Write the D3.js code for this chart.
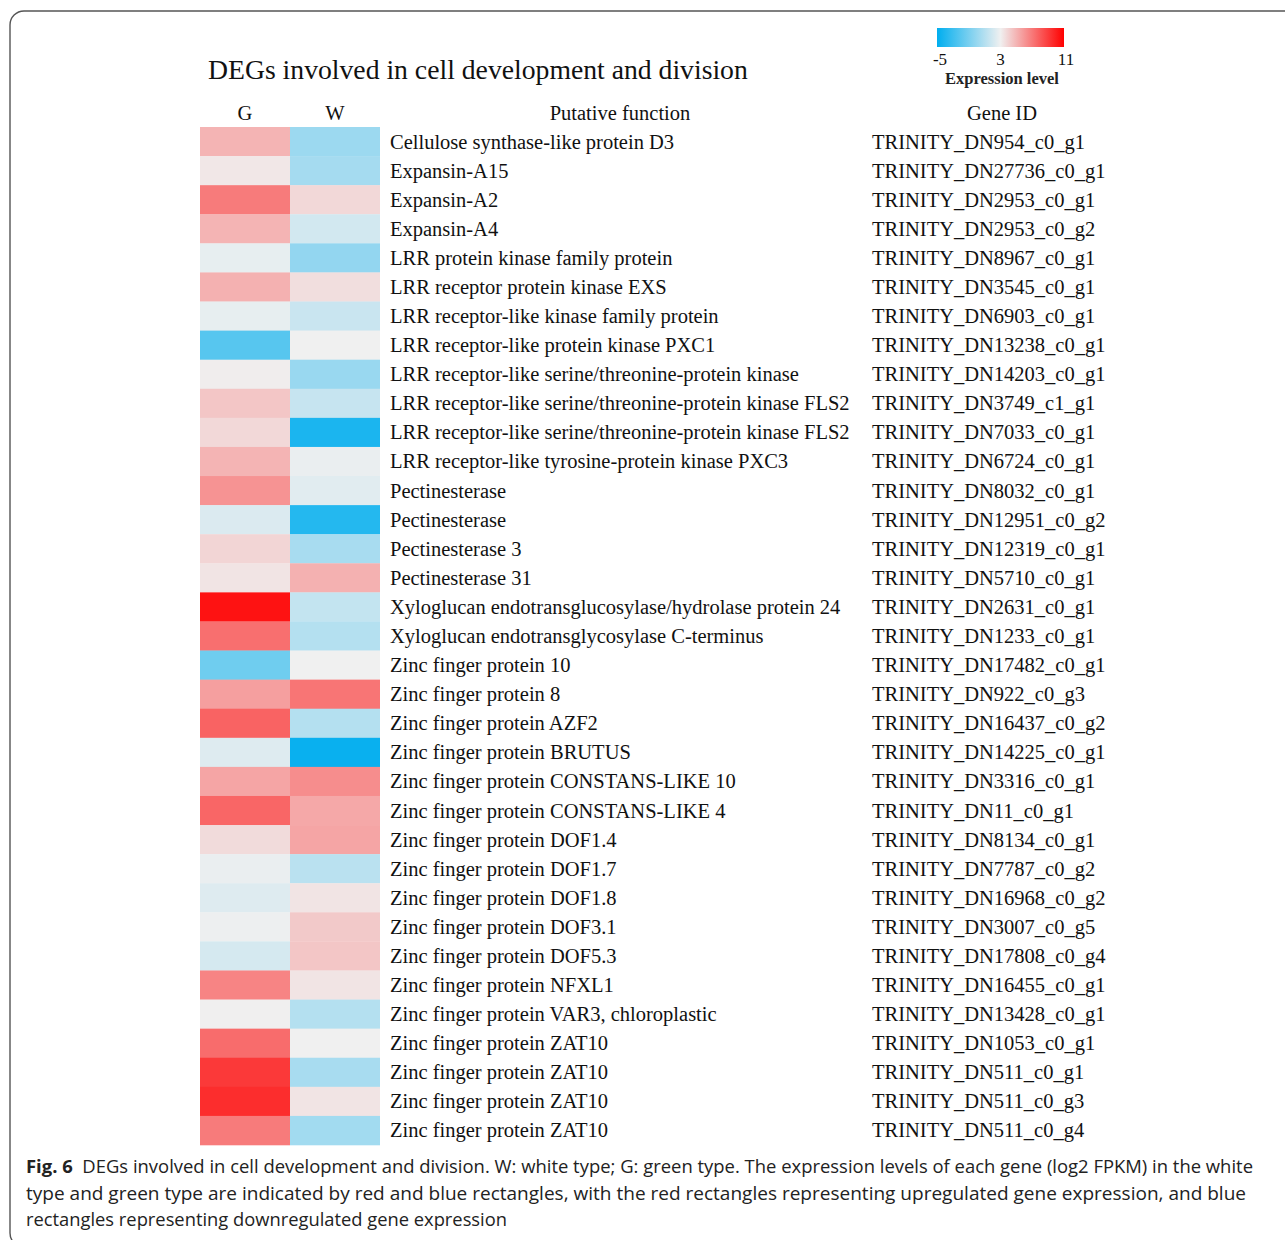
<!DOCTYPE html>
<html>
<head>
<meta charset="utf-8">
<script src="https://cdn.jsdelivr.net/npm/d3@7"></script>
<style>
  body { margin: 0; background: #fff; }
  svg { display: block; }
</style>
</head>
<body>
<div id="chart"></div>
<script>
// data
var functions = [
  "Cellulose synthase-like protein D3",
  "Expansin-A15",
  "Expansin-A2",
  "Expansin-A4",
  "LRR protein kinase family protein",
  "LRR receptor protein kinase EXS",
  "LRR receptor-like kinase family protein",
  "LRR receptor-like protein kinase PXC1",
  "LRR receptor-like serine/threonine-protein kinase",
  "LRR receptor-like serine/threonine-protein kinase FLS2",
  "LRR receptor-like serine/threonine-protein kinase FLS2",
  "LRR receptor-like tyrosine-protein kinase PXC3",
  "Pectinesterase",
  "Pectinesterase",
  "Pectinesterase 3",
  "Pectinesterase 31",
  "Xyloglucan endotransglucosylase/hydrolase protein 24",
  "Xyloglucan endotransglycosylase C-terminus",
  "Zinc finger protein 10",
  "Zinc finger protein 8",
  "Zinc finger protein AZF2",
  "Zinc finger protein BRUTUS",
  "Zinc finger protein CONSTANS-LIKE 10",
  "Zinc finger protein CONSTANS-LIKE 4",
  "Zinc finger protein DOF1.4",
  "Zinc finger protein DOF1.7",
  "Zinc finger protein DOF1.8",
  "Zinc finger protein DOF3.1",
  "Zinc finger protein DOF5.3",
  "Zinc finger protein NFXL1",
  "Zinc finger protein VAR3, chloroplastic",
  "Zinc finger protein ZAT10",
  "Zinc finger protein ZAT10",
  "Zinc finger protein ZAT10",
  "Zinc finger protein ZAT10"
];

var geneIds = [
  "TRINITY_DN954_c0_g1",
  "TRINITY_DN27736_c0_g1",
  "TRINITY_DN2953_c0_g1",
  "TRINITY_DN2953_c0_g2",
  "TRINITY_DN8967_c0_g1",
  "TRINITY_DN3545_c0_g1",
  "TRINITY_DN6903_c0_g1",
  "TRINITY_DN13238_c0_g1",
  "TRINITY_DN14203_c0_g1",
  "TRINITY_DN3749_c1_g1",
  "TRINITY_DN7033_c0_g1",
  "TRINITY_DN6724_c0_g1",
  "TRINITY_DN8032_c0_g1",
  "TRINITY_DN12951_c0_g2",
  "TRINITY_DN12319_c0_g1",
  "TRINITY_DN5710_c0_g1",
  "TRINITY_DN2631_c0_g1",
  "TRINITY_DN1233_c0_g1",
  "TRINITY_DN17482_c0_g1",
  "TRINITY_DN922_c0_g3",
  "TRINITY_DN16437_c0_g2",
  "TRINITY_DN14225_c0_g1",
  "TRINITY_DN3316_c0_g1",
  "TRINITY_DN11_c0_g1",
  "TRINITY_DN8134_c0_g1",
  "TRINITY_DN7787_c0_g2",
  "TRINITY_DN16968_c0_g2",
  "TRINITY_DN3007_c0_g5",
  "TRINITY_DN17808_c0_g4",
  "TRINITY_DN16455_c0_g1",
  "TRINITY_DN13428_c0_g1",
  "TRINITY_DN1053_c0_g1",
  "TRINITY_DN511_c0_g1",
  "TRINITY_DN511_c0_g3",
  "TRINITY_DN511_c0_g4"
];

var samples = ["G", "W"];

// log2 FPKM
var valuesG = [5.0, 3.3, 6.9, 5.0, 2.7, 5.1, 2.7, -2.1, 3.1, 4.4, 3.8, 5.0, 6.1, 2.3, 3.9, 3.4,
               10.4, 7.3, -1.3, 5.7, 7.7, 2.4, 5.5, 7.6, 3.7, 2.8, 2.4, 2.9, 2.1, 6.6, 3.05,
               7.4, 9.1, 9.5, 6.9];
var valuesW = [0.2, 0.5, 3.8, 2.0, -0.1, 3.6, 1.7, 3.0, 0.1, 1.6, -4.1, 2.8, 2.5, -3.8, 0.6, 5.1,
               1.5, 1.0, 3.0, 7.1, 1.0, -4.7, 6.3, 5.4, 5.5, 1.2, 3.4, 4.3, 4.4, 3.4, 1.0,
               3.0, 0.6, 3.4, 0.4];

var legendTicks = [-5, 3, 11];

var captionLines = [
  ["Fig. 6", "  DEGs involved in cell development and division. W: white type; G: green type. The expression levels of each gene (log2 FPKM) in the white"],
  ["", "type and green type are indicated by red and blue rectangles, with the red rectangles representing upregulated gene expression, and blue"],
  ["", "rectangles representing downregulated gene expression"]
];
var captionEnds = [1253, 1246, 507];

var W = 1285, H = 1240;
var serif = "'Liberation Serif', 'Times New Roman', serif";
var fs = '20.5px';

var svg = d3.select('#chart').append('svg')
    .attr('width', W)
    .attr('height', H);

// frame
svg.append('rect')
    .attr('x', 10).attr('y', 11)
    .attr('width', 1320).attr('height', 1236)
    .attr('rx', 14)
    .attr('fill', 'none')
    .attr('stroke', '#555')
    .attr('stroke-width', 1.4);

var color = d3.scaleLinear()
    .domain([-5, 3, 11])
    .range(['#00aeef', '#f0f0f0', '#ff0000']);

var rows = d3.range(functions.length);
var y = d3.scaleBand().domain(rows).range([127, 1145]);
var x = d3.scaleBand().domain(samples).range([200, 380]);

var cells = [];
rows.forEach(i => {
  cells.push({ row: i, col: "G", v: valuesG[i] });
  cells.push({ row: i, col: "W", v: valuesW[i] });
});

svg.selectAll('.cell')
    .data(cells)
    .enter()
    .append('rect')
    .attr('class', 'cell')
    .attr('x', d => x(d.col))
    .attr('y', d => y(d.row))
    .attr('width', x.bandwidth())
    .attr('height', y.bandwidth() + 0.3)
    .attr('fill', d => color(d.v));

// title
svg.append('text')
    .attr('x', 208).attr('y', 79)
    .style('font-family', serif)
    .style('font-size', '27.7px')
    .attr('fill', '#111')
    .text('DEGs involved in cell development and division');

// column headers
var headY = 120;
svg.selectAll('.colhead')
    .data(samples)
    .enter()
    .append('text')
    .attr('class', 'colhead')
    .attr('x', d => x(d) + x.bandwidth() / 2)
    .attr('y', headY)
    .attr('text-anchor', 'middle')
    .style('font-family', serif)
    .style('font-size', fs)
    .attr('fill', '#111')
    .text(d => d);

svg.append('text')
    .attr('x', 620).attr('y', headY)
    .attr('text-anchor', 'middle')
    .style('font-family', serif).style('font-size', fs)
    .attr('fill', '#111')
    .text('Putative function');

svg.append('text')
    .attr('x', 1002).attr('y', headY)
    .attr('text-anchor', 'middle')
    .style('font-family', serif).style('font-size', fs)
    .attr('fill', '#111')
    .text('Gene ID');

// row labels
svg.selectAll('.func')
    .data(functions)
    .enter()
    .append('text')
    .attr('class', 'func')
    .attr('x', 390)
    .attr('y', (d, i) => y(i) + y.bandwidth() / 2 + 7)
    .style('font-family', serif).style('font-size', fs)
    .attr('fill', '#111')
    .text(d => d);

svg.selectAll('.gene')
    .data(geneIds)
    .enter()
    .append('text')
    .attr('class', 'gene')
    .attr('x', 872)
    .attr('y', (d, i) => y(i) + y.bandwidth() / 2 + 7)
    .style('font-family', serif).style('font-size', fs)
    .attr('fill', '#111')
    .text(d => d);

// legend
var lx = d3.scaleLinear().domain([-5, 11]).range([937, 1064]);
var defs = svg.append('defs');
var grad = defs.append('linearGradient').attr('id', 'legGrad');
legendTicks.forEach(t => {
  grad.append('stop')
      .attr('offset', ((t + 5) / 16 * 100) + '%')
      .attr('stop-color', color(t));
});
svg.append('rect')
    .attr('x', lx(-5)).attr('y', 28)
    .attr('width', lx(11) - lx(-5)).attr('height', 19)
    .attr('fill', 'url(#legGrad)');

svg.selectAll('.legtick')
    .data(legendTicks)
    .enter()
    .append('text')
    .attr('class', 'legtick')
    .attr('x', d => lx(d) + (d == -5 ? 3 : d == 11 ? 2 : 0))
    .attr('y', 65)
    .attr('text-anchor', 'middle')
    .style('font-family', serif).style('font-size', '17px')
    .attr('fill', '#111')
    .text(d => d);

svg.append('text')
    .attr('x', 1002).attr('y', 84)
    .attr('text-anchor', 'middle')
    .style('font-family', serif).style('font-size', '16.5px')
    .style('font-weight', 'bold')
    .attr('fill', '#222')
    .text('Expression level');

// caption
captionLines.forEach((ln, i) => {
  var t = svg.append('text')
      .attr('x', 26)
      .attr('y', 1173 + i * 26.5)
      .style('font-family', "'Open Sans', 'Noto Sans', sans-serif")
      .style('font-size', '18px')
      .attr('fill', '#222')
      .attr('textLength', captionEnds[i] - 26)
      .attr('lengthAdjust', 'spacingAndGlyphs')
      .attr('xml:space', 'preserve');
  if (ln[0]) t.append('tspan').style('font-weight', 'bold').text(ln[0]);
  t.append('tspan').text(ln[1]);
});
</script>
</body>
</html>
